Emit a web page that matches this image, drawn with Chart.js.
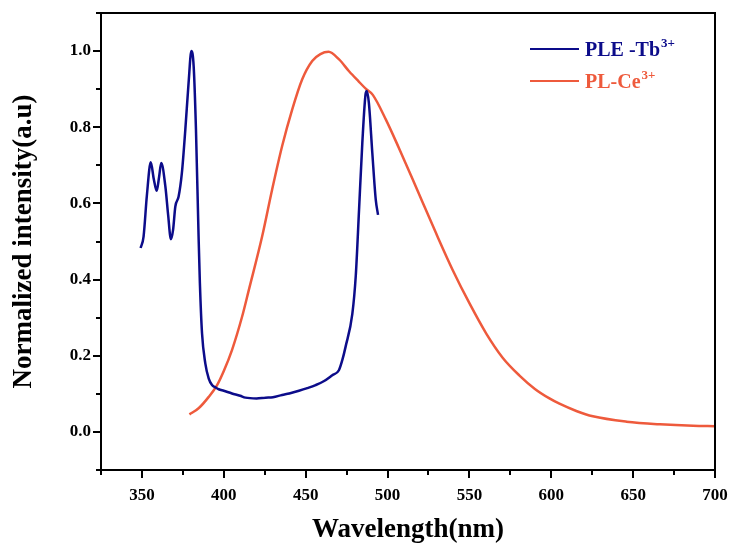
<!DOCTYPE html>
<html>
<head>
<meta charset="utf-8">
<script src="https://cdn.jsdelivr.net/npm/chart.js@4.4.1/dist/chart.umd.min.js"></script>
<style>
  html,body{margin:0;padding:0;background:#fff;}
  #wrap{width:732px;height:548px;}
</style>
</head>
<body>
<div id="wrap"><canvas id="c" width="732" height="548"></canvas></div>
<script>
// PLE of Tb3+ (wavelength nm / normalized intensity)
const pleWl  = [349.2,351,353,355.4,357.2,359,360.5,361.8,364.3,366,367.7,369,370.4,372.4,374.4,376.5,378.5,380.2,381.6,383,384.6,385.4,386.7,388.7,390.8,392.8,394.9,396.9,400,405,410,413.2,420,425.5,430,435.6,440,445.9,451,456.1,461,466.3,470.3,472.4,474.4,478.5,480.6,482.6,484.6,486.7,487.3,488.6,490.7,492.8,494.2];
const pleVal = [0.483,0.513,0.62,0.708,0.665,0.633,0.67,0.706,0.645,0.57,0.506,0.53,0.592,0.618,0.68,0.794,0.917,1.0,0.96,0.794,0.513,0.39,0.259,0.18,0.14,0.123,0.117,0.112,0.108,0.101,0.095,0.09,0.088,0.09,0.091,0.097,0.101,0.108,0.115,0.123,0.133,0.149,0.162,0.189,0.224,0.31,0.41,0.583,0.759,0.89,0.895,0.864,0.733,0.61,0.57];
// PL of Ce3+
const plWl  = [379,384.6,390.8,395.9,400,405,411.2,415.3,423.4,429.5,435.6,441.8,447.9,454,459,464,470.4,476.5,482.2,487,491,499,507,515,521.4,529.6,539.7,550,560.2,570.3,580.6,590,598.9,605,615.3,625.4,645.9,666.3,686.6,700];
const plVal = [0.046,0.062,0.092,0.123,0.16,0.215,0.303,0.373,0.513,0.636,0.75,0.847,0.926,0.974,0.992,0.998,0.978,0.947,0.921,0.9,0.885,0.82,0.745,0.667,0.603,0.522,0.426,0.338,0.259,0.195,0.148,0.113,0.088,0.074,0.055,0.041,0.027,0.02,0.016,0.015];

const seriesNames = ['PLE -Tb', 'PL-Ce'];
const seriesSup   = ['3+', '3+'];
const xMajor = [350,400,450,500,550,600,650,700];
const xMinor = [325,375,425,475,525,575,625,675];
const yMajor = [0,0.2,0.4,0.6,0.8,1.0];
const yMinor = [-0.1,0.1,0.3,0.5,0.7,0.9,1.1];

const BLUE = '#0c0c8a', RED = '#ee5a3c';
const SERIF = '"Liberation Serif","Times New Roman",serif';

const pts = (xs, ys) => xs.map((x,i)=>({x, y:ys[i]}));

// frame, tick marks and legend
const decor = {
  id:'decor',
  afterDraw(chart){
    const {ctx, chartArea:a, scales:{x,y}} = chart;
    ctx.save();
    ctx.strokeStyle = '#000'; ctx.lineWidth = 2;
    ctx.strokeRect(a.left, a.top, a.right-a.left, a.bottom-a.top);
    ctx.beginPath();
    const tick = (vals, len)=>{
      vals.forEach(v=>{ const px=Math.round(x.getPixelForValue(v)); ctx.moveTo(px,a.bottom); ctx.lineTo(px,a.bottom+len); });
    };
    const ytick = (vals, len)=>{
      vals.forEach(v=>{ const py=Math.round(y.getPixelForValue(v)); ctx.moveTo(a.left,py); ctx.lineTo(a.left-len,py); });
    };
    tick(xMajor, 8); tick(xMinor, 5); ytick(yMajor, 8); ytick(yMinor, 5);
    ctx.stroke();

    // legend
    const rows = [49, 81];
    chart.data.datasets.forEach((ds,i)=>{
      const ly = rows[i];
      ctx.strokeStyle = ds.borderColor; ctx.lineWidth = 2;
      ctx.beginPath(); ctx.moveTo(530, ly); ctx.lineTo(579, ly); ctx.stroke();
      ctx.fillStyle = ds.borderColor;
      ctx.textBaseline = 'alphabetic'; ctx.textAlign = 'left';
      ctx.font = 'bold 20px ' + SERIF;
      ctx.fillText(seriesNames[i], 585, ly+7);
      const w = ctx.measureText(seriesNames[i]).width;
      ctx.font = 'bold 13px ' + SERIF;
      ctx.fillText(seriesSup[i], 585+w+1, ly-2);
    });
    ctx.restore();
  }
};

const noPad = s=>{ s.paddingLeft=0; s.paddingRight=0; s.paddingTop=0; s.paddingBottom=0; };

new Chart(document.getElementById('c'), {
  type:'line',
  data:{
    datasets:[
      {label:'PLE -Tb3+', data:pts(pleWl, pleVal), borderColor:BLUE, borderWidth:2.5, pointRadius:0, cubicInterpolationMode:'monotone', fill:false},
      {label:'PL-Ce3+',  data:pts(plWl, plVal),  borderColor:RED,  borderWidth:2.5, pointRadius:0, cubicInterpolationMode:'monotone', fill:false}
    ]
  },
  options:{
    responsive:false, animation:false,
    layout:{padding:{left:0, right:17, top:13, bottom:0}},
    plugins:{legend:{display:false}, tooltip:{enabled:false}},
    scales:{
      x:{
        type:'linear', min:325, max:700,
        grid:{display:false}, border:{display:false},
        afterFit:s=>{ s.height = 78; noPad(s); },
        afterBuildTicks:s=>{ s.ticks = xMajor.map(v=>({value:v})); },
        ticks:{color:'#000', font:{family:SERIF, size:17, weight:'bold'}, padding:7, maxRotation:0},
        title:{display:true, text:'Wavelength(nm)', color:'#000', font:{family:SERIF, size:27, weight:'bold'}, padding:{top:0,bottom:2}}
      },
      y:{
        min:-0.1, max:1.1,
        grid:{display:false}, border:{display:false},
        afterFit:s=>{ s.width = 101; noPad(s); },
        afterBuildTicks:s=>{ s.ticks = yMajor.map(v=>({value:v})); },
        ticks:{color:'#000', font:{family:SERIF, size:17, weight:'bold'}, padding:2, callback:v=>v.toFixed(1)},
        title:{display:true, text:'Normalized intensity(a.u)', color:'#000', font:{family:SERIF, size:27, weight:'bold'}, padding:{top:8,bottom:0}}
      }
    }
  },
  plugins:[decor]
});
</script>
</body>
</html>
